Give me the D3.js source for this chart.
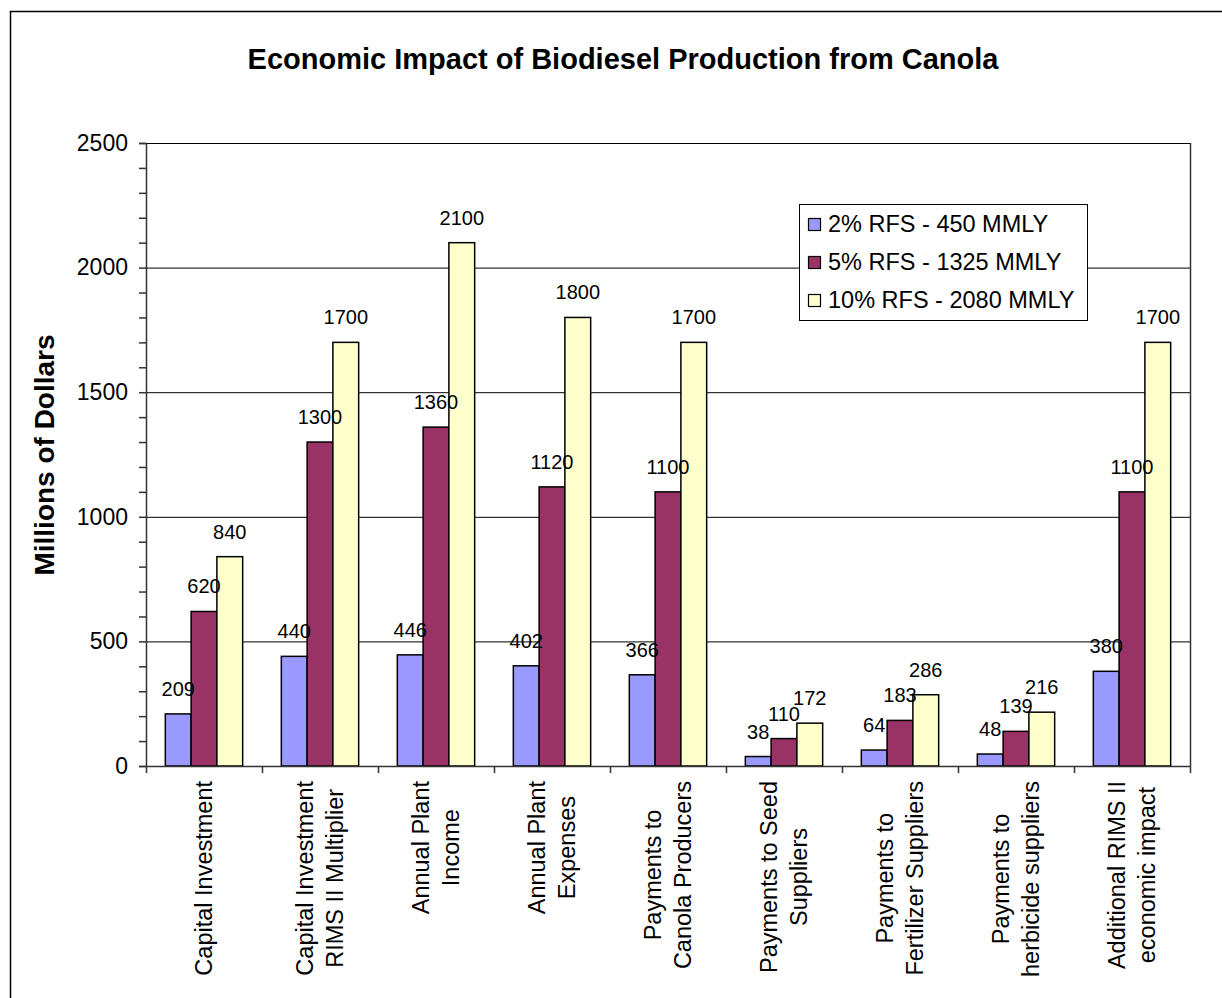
<!DOCTYPE html>
<html>
<head>
<meta charset="utf-8">
<script src="https://cdn.jsdelivr.net/npm/d3@7.9.0/dist/d3.min.js"></script>
<style>
  body { margin: 0; background: #fff; }
  svg { display: block; font-family: "Liberation Sans", Arial, sans-serif; }
</style>
</head>
<body>
<svg id="chart" width="1222" height="998"></svg>
<script>
// chart data
const categories = [
  ["Capital Investment"],
  ["Capital Investment", "RIMS II Multiplier"],
  ["Annual Plant", "Income"],
  ["Annual Plant", "Expenses"],
  ["Payments to", "Canola Producers"],
  ["Payments to Seed", "Suppliers"],
  ["Payments to", "Fertilizer Suppliers"],
  ["Payments to", "herbicide suppliers"],
  ["Additional RIMS II", "economic impact"]
];
const seriesNames = ["2% RFS - 450 MMLY", "5% RFS - 1325 MMLY", "10% RFS - 2080 MMLY"];
const rfs2 = [209, 440, 446, 402, 366, 38, 64, 48, 380];
const rfs5 = [620, 1300, 1360, 1120, 1100, 110, 183, 139, 1100];
const rfs10 = [840, 1700, 2100, 1800, 1700, 172, 286, 216, 1700];
const yTicks = [0, 500, 1000, 1500, 2000, 2500];
const colors = ["#9999ff", "#993366", "#ffffcc"];

const seriesValues = [rfs2, rfs5, rfs10];
const svg = d3.select("#chart");

// outer chart frame
svg.append("rect")
  .attr("x", 10.5).attr("y", 11.5)
  .attr("width", 1230).attr("height", 1000)
  .attr("fill", "#fff").attr("stroke", "#000").attr("stroke-width", 1.5);

const plotLeft = 146, plotRight = 1190, plotTop = 143, plotBottom = 766;

const x = d3.scaleBand().domain(d3.range(categories.length)).range([plotLeft, plotRight]);
const xSub = d3.scaleBand().domain(d3.range(seriesNames.length))
  .range([0, x.bandwidth()]).paddingInner(0).paddingOuter(0.75);
const y = d3.scaleLinear().domain([0, 2500]).range([plotBottom, plotTop]);

// gridlines
svg.append("g").selectAll("line")
  .data(yTicks.filter(d => d > 0))
  .join("line")
  .attr("x1", plotLeft).attr("x2", plotRight)
  .attr("y1", d => y(d) + 0.5).attr("y2", d => y(d) + 0.5)
  .attr("stroke", "#000").attr("stroke-width", 1);

// right border of plot area
svg.append("line")
  .attr("x1", plotRight + 0.5).attr("x2", plotRight + 0.5)
  .attr("y1", plotTop).attr("y2", plotBottom)
  .attr("stroke", "#333").attr("stroke-width", 1.5);

// bars
const groups = svg.append("g").selectAll("g")
  .data(categories.map((c, i) => i))
  .join("g")
  .attr("transform", i => `translate(${x(i)},0)`);

groups.selectAll("rect")
  .data(i => seriesValues.map((vals, s) => ({ s, v: vals[i] })))
  .join("rect")
  .attr("x", d => xSub(d.s))
  .attr("y", d => y(d.v))
  .attr("width", xSub.bandwidth())
  .attr("height", d => y(0) - y(d.v))
  .attr("fill", d => colors[d.s])
  .attr("stroke", "#000").attr("stroke-width", 1.5);

groups.selectAll("text")
  .data(i => seriesValues.map((vals, s) => ({ s, v: vals[i] })))
  .join("text")
  .attr("x", d => xSub(d.s) + xSub.bandwidth() / 2)
  .attr("y", d => y(d.v) - 18)
  .attr("text-anchor", "middle")
  .attr("font-size", 20)
  .attr("fill", "#000")
  .text(d => d.v);

// y axis
const yAxis = d3.axisLeft(y)
  .tickValues(d3.range(0, 2501, 100))
  .tickSize(7).tickPadding(11)
  .tickFormat(d => d % 500 === 0 ? d : "");
const gy = svg.append("g").attr("transform", `translate(${plotLeft},0)`).call(yAxis);
gy.attr("font-family", null).attr("font-size", null);
gy.selectAll("text").attr("font-size", 23).attr("fill", "#000");
gy.selectAll("line").attr("stroke", "#333").attr("stroke-width", 1.5);
gy.select(".domain").attr("stroke", "#333").attr("stroke-width", 1.5);

// x axis (ticks between categories)
const xEdge = d3.scaleLinear().domain([0, categories.length]).range([plotLeft, plotRight]);
const xAxis = d3.axisBottom(xEdge)
  .tickValues(d3.range(0, categories.length + 1))
  .tickSize(7).tickSizeOuter(0).tickFormat("");
const gx = svg.append("g").attr("transform", `translate(0,${plotBottom})`).call(xAxis);
gx.selectAll("line").attr("stroke", "#333").attr("stroke-width", 1.5);
gx.select(".domain").attr("stroke", "#333").attr("stroke-width", 1.5);

// category labels, rotated, lines centred, block top near the axis
const lineGap = 30;
categories.forEach((lines, i) => {
  const g = svg.append("g")
    .attr("transform", `translate(${x(i) + x.bandwidth() / 2},781) rotate(-90)`);
  const texts = lines.map((line, k) => g.append("text")
    .attr("y", (k - (lines.length - 1) / 2) * lineGap + 8.4)
    .attr("text-anchor", "middle")
    .attr("font-size", 23.5)
    .attr("fill", "#000")
    .text(line));
  const maxLen = d3.max(texts, t => t.node().getComputedTextLength());
  texts.forEach(t => t.attr("x", -maxLen / 2));
});

// title
svg.append("text")
  .attr("x", 623).attr("y", 69)
  .attr("text-anchor", "middle")
  .attr("font-size", 29).attr("font-weight", "bold")
  .text("Economic Impact of Biodiesel Production from Canola");

// y axis title
svg.append("text")
  .attr("transform", "translate(54,455) rotate(-90)")
  .attr("text-anchor", "middle")
  .attr("font-size", 28).attr("font-weight", "bold")
  .text("Millions of Dollars");

// legend
const legend = svg.append("g");
legend.append("rect")
  .attr("x", 799.5).attr("y", 204.5)
  .attr("width", 288).attr("height", 116)
  .attr("fill", "#fff").attr("stroke", "#000").attr("stroke-width", 1);
seriesNames.forEach((name, s) => {
  const base = 232 + s * 38;
  legend.append("rect")
    .attr("x", 808.5).attr("y", base - 13.5)
    .attr("width", 12).attr("height", 12)
    .attr("fill", colors[s]).attr("stroke", "#000").attr("stroke-width", 1.2);
  legend.append("text")
    .attr("x", 828).attr("y", base)
    .attr("font-size", 23.5)
    .text(name);
});
</script>
</body>
</html>
